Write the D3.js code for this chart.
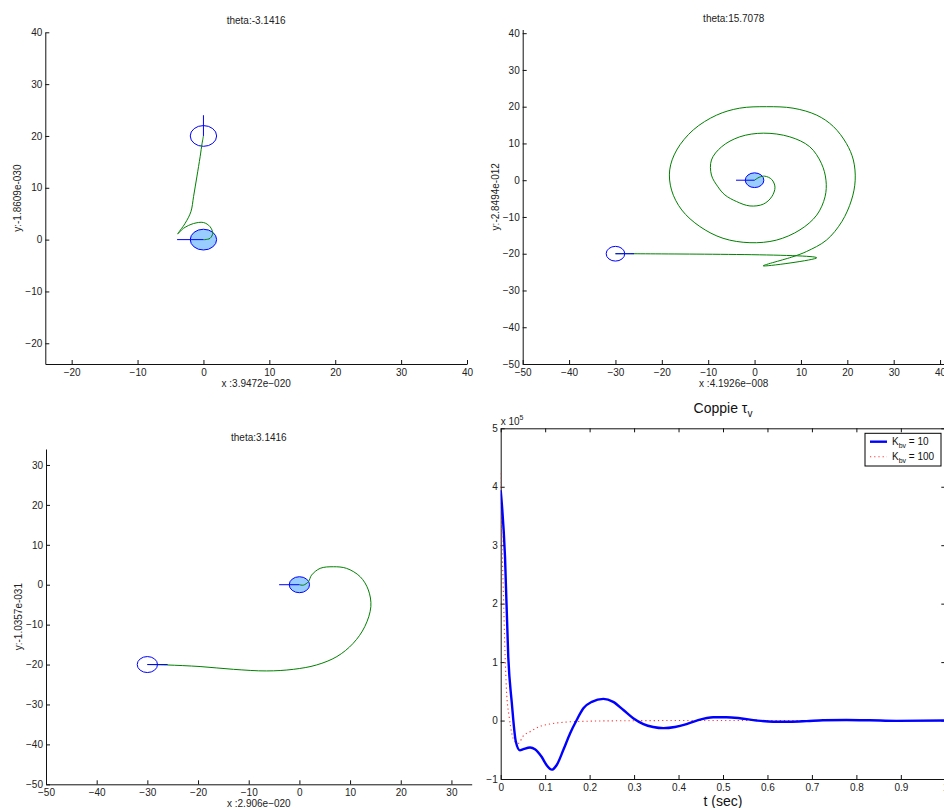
<!DOCTYPE html>
<html>
<head>
<meta charset="utf-8">
<script src="https://cdn.jsdelivr.net/npm/d3@7"></script>
<style>
  html, body { margin: 0; padding: 0; background: #fff; }
  svg { display: block; font-family: "Liberation Sans", Arial, Helvetica, sans-serif; }
</style>
</head>
<body>
<script>
// ---------------- DATA ----------------
// Panel 1 (theta:-3.1416)
const p1Title = "theta:-3.1416";
const p1XLabel = "x :3.9472e\u2212020";
const p1YLabel = "y:-1.8609e-030";
const p1XDomain = [-24, 40];
const p1YDomain = [-24, 40];
const p1XTicks = [-20, -10, 0, 10, 20, 30, 40];
const p1YTicks = [-20, -10, 0, 10, 20, 30, 40];
const p1Path = [[0,20],[-0.2,18.6],[-0.5,16],[-1,12.1],[-1.5,8.3],[-1.9,5.4],[-2.8,3.1],[-3.9,1.1],
                [-3,2.2],[-1.5,3.1],[0,3.3],[1,2.5],[1.4,1.2],[1,0.25],[0.25,0],[0,0]];
const p1Start = {x:0, y:20, hx:0, hy:24};     // open circle + heading
const p1End   = {x:0, y:0,  hx:-4, hy:0};     // filled circle + heading

// Panel 2 (theta:15.7078)
const p2Title = "theta:15.7078";
const p2XLabel = "x :4.1926e\u2212008";
const p2YLabel = "y:-2.8494e-012";
const p2XDomain = [-50, 41];
const p2YDomain = [-50, 41];
const p2XTicks = [-50, -40, -30, -20, -10, 0, 10, 20, 30, 40];
const p2YTicks = [-50, -40, -30, -20, -10, 0, 10, 20, 30, 40];
const p2Path = [[-30,-20],[-26,-20],[13.4,-21.1],[1.85,-23.3],[8.3,-20.8],[11.2,-19.4],[15.5,-16.3],
  [18.8,-11.3],[20.9,-5.4],[21.7,0],[21.3,5.5],[19.8,10],[17,14.6],[13.4,17.7],[8.3,19.6],[2.6,20],
  [-3.2,19.6],[-8.2,17.7],[-13.2,13.7],[-16.8,8.2],[-18.3,2.8],[-17.9,-2.7],[-15.7,-8.1],[-11.8,-12.6],
  [-6.8,-15.8],[-1,-17],[4.7,-16.3],[9.8,-13.5],[13.4,-9.5],[15.2,-4.5],[15.4,0],[14.4,4.6],[11.9,9.1],
  [7.6,11.8],[1.9,12.8],[-3.2,11.8],[-7.1,9.1],[-9.3,5.5],[-9.3,1.4],[-7.9,-1.8],[-6.4,-4],[-3.9,-5.8],
  [-1,-7],[1.9,-6.5],[3.7,-4.5],[4.4,-1.9],[3.7,0.2],[2.2,1.1],[1,0.8],[0,0]];
const p2Start = {x:-30, y:-20, hx:-26, hy:-20};
const p2End   = {x:0, y:0, hx:-4, hy:0};

// Panel 3 (theta:3.1416)
const p3Title = "theta:3.1416";
const p3XLabel = "x :2.906e\u2212020";
const p3YLabel = "y:-1.0357e-031";
const p3XDomain = [-50, 34];
const p3YDomain = [-50, 34];
const p3XTicks = [-50, -40, -30, -20, -10, 0, 10, 20, 30];
const p3YTicks = [-50, -40, -30, -20, -10, 0, 10, 20, 30];
const p3Path = [[-30,-20],[-26.2,-20.1],[-19.6,-20.5],[-13,-21.2],[-6.5,-21.6],[-1.2,-21.2],[3.4,-20.1],
  [7.4,-18],[10.6,-14.7],[12.9,-10.5],[14.1,-5.5],[13.6,-1.3],[12,2],[9.3,4.1],[6.7,4.5],[4.1,4.1],
  [2.4,2.4],[1.8,0.8],[0.8,-0.1],[0,0]];
const p3Start = {x:-30, y:-20, hx:-26, hy:-20};
const p3End   = {x:0, y:0, hx:-4, hy:0};
const robotRadius = 2;

// Panel 4 (Coppie tau_v), values in units of 10^5
const p4XDomain = [0, 1];
const p4YDomain = [-1, 5];
const p4XTicks = [0, 0.1, 0.2, 0.3, 0.4, 0.5, 0.6, 0.7, 0.8, 0.9, 1];
const p4YTicks = [-1, 0, 1, 2, 3, 4, 5];
const p4XTickLabels = ["0","0.1","0.2","0.3","0.4","0.5","0.6","0.7","0.8","0.9","1"];
const tK10 = [0,0.0097,0.017,0.025,0.034,0.043,0.051,0.066,0.077,0.092,0.103,0.115,0.126,0.141,0.156,
  0.171,0.186,0.205,0.231,0.253,0.276,0.298,0.321,0.343,0.366,0.392,0.418,0.441,0.478,0.508,0.538,
  0.576,0.613,0.65,0.688,0.725,0.778,0.83,0.89,1.0];
const vK10 = [3.94,2.8,1.09,0.3,-0.36,-0.51,-0.49,-0.46,-0.49,-0.62,-0.76,-0.84,-0.76,-0.5,-0.22,
  0.01,0.21,0.32,0.37,0.32,0.18,0.04,-0.06,-0.11,-0.13,-0.11,-0.06,0,0.057,0.057,0.04,
  0,-0.02,-0.02,-0.01,0.005,0.01,0.005,-0.005,0];
const tK100 = [0,0.002,0.006,0.01,0.013,0.019,0.025,0.032,0.04,0.05,0.066,0.088,0.11,0.14,0.178,0.25,0.4,0.6,0.8,1.0];
const vK100 = [4.23,3.37,2.2,1.1,0.52,0.07,-0.22,-0.36,-0.39,-0.27,-0.19,-0.1,-0.06,-0.03,-0.015,-0.005,0,0,0,0];
const legendNames = ["10", "100"];

// ---------------- DRAW ----------------
const W = 944, H = 808;
const svg = d3.select("body").append("svg").attr("width", W).attr("height", H);
const fmt = d3.format("");

function inwardAxes(g, x, y, xt, yt, xlabels, fs) {
  const xa = d3.axisBottom(x).tickValues(xt).tickSizeInner(-4).tickSizeOuter(0).tickPadding(5);
  if (xlabels) xa.tickFormat((d, i) => xlabels[i]); else xa.tickFormat(fmt);
  const ya = d3.axisLeft(y).tickValues(yt).tickSizeInner(-4).tickSizeOuter(0).tickPadding(3).tickFormat(fmt);
  const gx = g.append("g").attr("transform", `translate(0,${y.range()[0]})`).call(xa);
  const gy = g.append("g").attr("transform", `translate(${x.range()[0]},0)`).call(ya);
  [gx, gy].forEach(a => {
    a.attr("font-family", null).attr("font-size", fs);
    a.selectAll("text").attr("fill", "#222");
    a.selectAll("line").attr("stroke", "#111");
    a.select(".domain").attr("stroke", "#111");
  });
  return [gx, gy];
}

function trajPanel(box, xd, yd, xt, yt, title, xl, yl, path, start, end) {
  const x = d3.scaleLinear().domain(xd).range([box.l, box.r]);
  const y = d3.scaleLinear().domain(yd).range([box.b, box.t]);
  const g = svg.append("g");
  inwardAxes(g, x, y, xt, yt, null, 10);
  const rx = x(robotRadius) - x(0), ry = y(0) - y(robotRadius);
  // filled robot (end)
  g.append("ellipse").attr("cx", x(end.x)).attr("cy", y(end.y)).attr("rx", rx).attr("ry", ry)
    .attr("fill", "#99ccff").attr("stroke", "#0000ff").attr("stroke-width", 1);
  // open robot (start)
  g.append("ellipse").attr("cx", x(start.x)).attr("cy", y(start.y)).attr("rx", rx).attr("ry", ry)
    .attr("fill", "none").attr("stroke", "#0000ff").attr("stroke-width", 1);
  // trajectory
  g.append("path").datum(path)
    .attr("d", d3.line().x(d => x(d[0])).y(d => y(d[1])).curve(d3.curveCatmullRom.alpha(0.5)))
    .attr("fill", "none").attr("stroke", "#008000").attr("stroke-width", 1);
  // headings
  [start, end].forEach(p => {
    g.append("line").attr("x1", x(p.x)).attr("y1", y(p.y)).attr("x2", x(p.hx)).attr("y2", y(p.hy))
      .attr("stroke", "#0000ff").attr("stroke-width", 1);
  });
  const cx = (box.l + box.r) / 2, cy = (box.t + box.b) / 2;
  g.append("text").attr("x", cx).attr("y", box.t - 8).attr("text-anchor", "middle")
    .attr("font-size", 10).attr("fill", "#222").text(title);
  g.append("text").attr("x", cx).attr("y", box.b + 23).attr("text-anchor", "middle")
    .attr("font-size", 10).attr("fill", "#222").text(xl);
  g.append("text").attr("transform", `translate(${box.l - 24},${cy}) rotate(-90)`).attr("text-anchor", "middle")
    .attr("font-size", 10).attr("fill", "#222").text(yl);
}

trajPanel({l:45.3, r:467, t:32.3, b:364}, p1XDomain, p1YDomain, p1XTicks, p1YTicks,
  p1Title, p1XLabel, p1YLabel, p1Path, p1Start, p1End);
trajPanel({l:522.7, r:944.7, t:29.5, b:364}, p2XDomain, p2YDomain, p2XTicks, p2YTicks,
  p2Title, p2XLabel, p2YLabel, p2Path, p2Start, p2End);
trajPanel({l:46, r:471.7, t:449, b:784.3}, p3XDomain, p3YDomain, p3XTicks, p3YTicks,
  p3Title, p3XLabel, p3YLabel, p3Path, p3Start, p3End);

// Panel 4
(function () {
  const box = {l:500.7, r:945.3, t:428.3, b:779};
  const x = d3.scaleLinear().domain(p4XDomain).range([box.l, box.r]);
  const y = d3.scaleLinear().domain(p4YDomain).range([box.b, box.t]);
  const g = svg.append("g");
  inwardAxes(g, x, y, p4XTicks, p4YTicks, p4XTickLabels, 10);
  // top and right axes (box on, no labels)
  const top = g.append("g").attr("transform", `translate(0,${box.t})`)
    .call(d3.axisTop(x).tickValues(p4XTicks).tickSizeInner(-4).tickSizeOuter(0).tickFormat(""));
  const right = g.append("g").attr("transform", `translate(${box.r},0)`)
    .call(d3.axisRight(y).tickValues(p4YTicks).tickSizeInner(-4).tickSizeOuter(0).tickFormat(""));
  [top, right].forEach(a => { a.selectAll("line").attr("stroke", "#111"); a.select(".domain").attr("stroke", "#111"); });

  const clipId = "clip4";
  svg.append("clipPath").attr("id", clipId).append("rect")
    .attr("x", box.l).attr("y", box.t).attr("width", box.r - box.l).attr("height", box.b - box.t);

  const line = d3.line().x(d => x(d[0])).y(d => y(d[1])).curve(d3.curveMonotoneX);
  g.append("path").datum(tK100.map((t, i) => [t, vK100[i]])).attr("clip-path", `url(#${clipId})`)
    .attr("d", line).attr("fill", "none").attr("stroke", "#ff3333").attr("stroke-width", 1.1)
    .attr("stroke-dasharray", "1.2,3");
  g.append("path").datum(tK10.map((t, i) => [t, vK10[i]])).attr("clip-path", `url(#${clipId})`)
    .attr("d", line).attr("fill", "none").attr("stroke", "#0000ff").attr("stroke-width", 2.4)
    .attr("stroke-linejoin", "round");

  // title
  const cx = (box.l + box.r) / 2;
  const tt = g.append("text").attr("x", cx).attr("y", box.t - 15).attr("text-anchor", "middle")
    .attr("font-size", 14).attr("fill", "#111");
  tt.append("tspan").text("Coppie \u03c4");
  tt.append("tspan").attr("font-size", 10).attr("dy", 4).text("v");
  // exponent
  const ex = g.append("text").attr("x", box.l).attr("y", box.t - 3).attr("font-size", 10).attr("fill", "#222");
  ex.append("tspan").text("x 10");
  ex.append("tspan").attr("font-size", 7).attr("dy", -5).text("5");
  // x label
  g.append("text").attr("x", cx).attr("y", box.b + 27).attr("text-anchor", "middle")
    .attr("font-size", 14).attr("fill", "#111").text("t (sec)");

  // legend
  const lg = g.append("g");
  lg.append("rect").attr("x", 865).attr("y", 433.3).attr("width", 76).attr("height", 32.7)
    .attr("fill", "#fff").attr("stroke", "#000").attr("stroke-width", 1);
  const styles = [
    {stroke: "#0000ff", w: 2.4, dash: null},
    {stroke: "#ff3333", w: 1.1, dash: "1.2,3"}
  ];
  legendNames.forEach((n, i) => {
    const yy = 441.7 + i * 15;
    lg.append("line").attr("x1", 870).attr("x2", 887).attr("y1", yy).attr("y2", yy)
      .attr("stroke", styles[i].stroke).attr("stroke-width", styles[i].w)
      .attr("stroke-dasharray", styles[i].dash);
    const t = lg.append("text").attr("x", 892).attr("y", yy + 3).attr("font-size", 10).attr("fill", "#111");
    t.append("tspan").text("K");
    t.append("tspan").attr("font-size", 7).attr("dy", 3).text("bv");
    t.append("tspan").attr("dy", -3).text(" = " + n);
  });
})();
</script>
</body>
</html>
